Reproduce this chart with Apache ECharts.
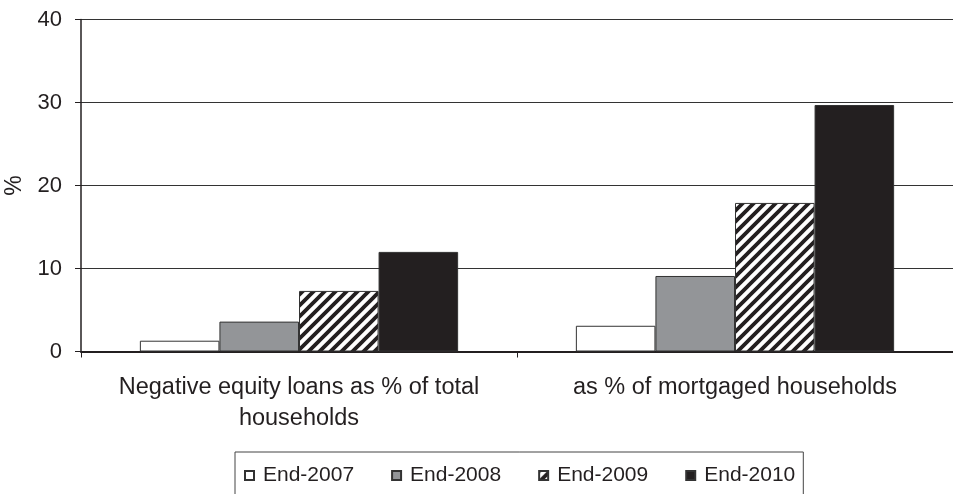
<!DOCTYPE html>
<html><head><meta charset="utf-8">
<script src="https://cdn.jsdelivr.net/npm/echarts@6/dist/echarts.min.js"></script>
<style>html,body{margin:0;padding:0;background:#fff}#c{width:953px;height:494px}</style>
</head><body><div id="c"></div>
<script>
const categories = ['Negative equity loans as % of total\nhouseholds', 'as % of mortgaged households'];
const seriesNames = ['End-2007', 'End-2008', 'End-2009', 'End-2010'];
const end2007 = [1.3, 3.1];
const end2008 = [3.6, 9.1];
const end2009 = [7.3, 17.9];
const end2010 = [12.0, 29.7];
const yTicks = [0, 10, 20, 30, 40];

function hatch() {
  const c = document.createElement('canvas');
  c.width = 11; c.height = 11;
  const g = c.getContext('2d');
  g.fillStyle = '#fff'; g.fillRect(0, 0, 11, 11);
  g.strokeStyle = '#231f20'; g.lineWidth = 3.8;
  g.beginPath();
  for (let k = -2; k <= 2; k++) {
    g.moveTo(k * 11 - 5.5, 16.5); g.lineTo(k * 11 + 16.5, -5.5);
  }
  g.stroke();
  return c;
}
const pat = { image: hatch(), repeat: 'repeat' };
const fills = ['#ffffff', '#939598', pat, '#231f20'];
const values = [end2007, end2008, end2009, end2010];
const font = '"Liberation Sans", Arial, sans-serif';

const chart = echarts.init(document.getElementById('c'), null, { renderer: 'canvas' });
chart.setOption({
  animation: false,
  grid: { left: 81, right: 0, top: 19.5, bottom: 142.5, containLabel: false, outerBoundsMode: 'none' },
  legend: {
    top: 452, left: 235,
    padding: [13, 8, 20, 9],
    borderColor: '#444', borderWidth: 1,
    itemWidth: 9, itemHeight: 9, itemGap: 37,
    icon: 'rect',
    textStyle: { fontFamily: font, fontSize: 21, color: '#231f20', padding: [0, 0, 0, 4] },
    data: seriesNames
  },
  xAxis: {
    type: 'category', data: categories,
    axisLine: { lineStyle: { color: '#231f20', width: 2 } },
    axisTick: { show: true, length: 6, lineStyle: { color: '#231f20', width: 1 } },
    axisLabel: { fontFamily: font, fontSize: 23.5, color: '#231f20', lineHeight: 31, margin: 21, interval: 0 }
  },
  yAxis: {
    type: 'value', min: yTicks[0], max: yTicks[yTicks.length - 1], interval: 10,
    name: '%', nameLocation: 'middle', nameGap: 53, nameRotate: 90,
    nameTextStyle: { fontFamily: font, fontSize: 23, color: '#231f20' },
    axisLine: { show: true, lineStyle: { color: '#231f20', width: 1.5 } },
    axisTick: { show: true, length: 6, lineStyle: { color: '#231f20' } },
    axisLabel: { fontFamily: font, fontSize: 22, color: '#231f20', margin: 19 },
    splitLine: { lineStyle: { color: '#333', width: 1.2 } }
  },
  series: seriesNames.map((n, i) => ({
    name: n, type: 'bar', data: values[i],
    barGap: '0%', barCategoryGap: '27%',
    itemStyle: { color: fills[i], borderColor: '#333', borderWidth: 1 }
  }))
});
</script></body></html>
